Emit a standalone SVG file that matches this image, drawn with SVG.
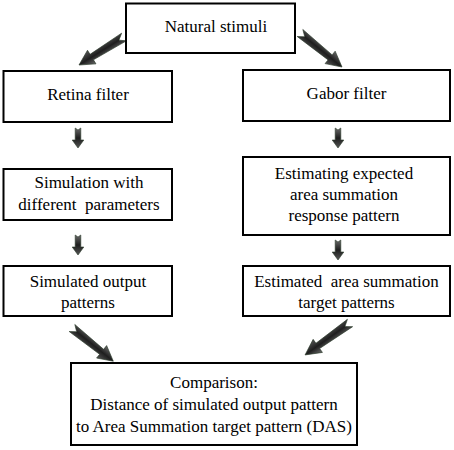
<svg xmlns="http://www.w3.org/2000/svg" xmlns:xlink="http://www.w3.org/1999/xlink" width="454" height="450" viewBox="0 0 454 450">
<style>
.box{fill:#fff;stroke:#000;stroke-width:2}
.t{font-family:'Liberation Serif','Times New Roman','DejaVu Serif',serif;font-size:17px;fill:#000;text-anchor:middle}
.arr{fill:url(#g);stroke:#2a3a2a;stroke-width:0.6}
</style>
<defs>
<linearGradient id="g" x1="0" y1="0" x2="0" y2="1">
<stop offset="0" stop-color="#6a6a6a"/>
<stop offset="0.5" stop-color="#1e1e1e"/>
<stop offset="1" stop-color="#555"/>
</linearGradient>
<path id="big" d="M0,-4.5 L38,-3.2 L38,-8 L53,0 L38,8 L38,3.2 L0,4.5 L6,0 Z"/>
<path id="small" d="M-2.8,0 L0,2 L2.8,0 L2.8,12 L5.8,12 L0,20 L-5.8,12 L-2.8,12 Z"/>
</defs>
<g id="connectors">
<use xlink:href="#big" class="arr" transform="translate(124,37) rotate(148.1)"/>
<use xlink:href="#big" class="arr" transform="translate(300,33) rotate(39) scale(1.02,1)"/>
<use xlink:href="#small" class="arr" transform="translate(78,128)"/>
<use xlink:href="#small" class="arr" transform="translate(338,128)"/>
<use xlink:href="#small" class="arr" transform="translate(78,235)"/>
<use xlink:href="#small" class="arr" transform="translate(338,240)"/>
<use xlink:href="#big" class="arr" transform="translate(72,328) rotate(38.8)"/>
<use xlink:href="#big" class="arr" transform="translate(350,323) rotate(144.6) scale(1.04,1)"/>
</g>
<g id="natural">
<rect class="box" x="126" y="3.5" width="169" height="49.5"/>
<text class="t" x="216" y="32">Natural stimuli</text>
</g>
<g id="retina">
<rect class="box" x="3.5" y="71" width="168.5" height="51"/>
<text class="t" x="88" y="100">Retina filter</text>
</g>
<g id="gabor">
<rect class="box" x="243" y="70" width="207" height="51"/>
<text class="t" x="346.5" y="99">Gabor filter</text>
</g>
<g id="simulation">
<rect class="box" x="3.5" y="169" width="168.5" height="51"/>
<text class="t" x="89" y="188">Simulation with</text>
<text class="t" x="89" y="210" xml:space="preserve">different  parameters</text>
</g>
<g id="estimating">
<rect class="box" x="243" y="157" width="207" height="78"/>
<text class="t" x="344" y="179">Estimating expected</text>
<text class="t" x="344" y="200">area summation</text>
<text class="t" x="344" y="221">response pattern</text>
</g>
<g id="simulated">
<rect class="box" x="3.5" y="266" width="168.5" height="50"/>
<text class="t" x="88" y="287">Simulated output</text>
<text class="t" x="88" y="308">patterns</text>
</g>
<g id="estimated">
<rect class="box" x="243" y="266" width="207" height="50"/>
<text class="t" x="346.5" y="287" xml:space="preserve">Estimated  area summation</text>
<text class="t" x="346.5" y="308">target patterns</text>
</g>
<g id="comparison">
<rect class="box" x="71" y="363" width="286" height="82"/>
<text class="t" x="214" y="388">Comparison:</text>
<text class="t" x="214" y="410">Distance of simulated output pattern</text>
<text class="t" x="214" y="432">to Area Summation target pattern (DAS)</text>
</g>
</svg>
